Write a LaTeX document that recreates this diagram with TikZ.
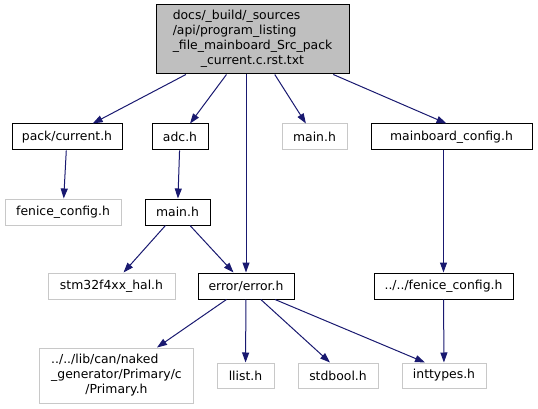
\documentclass[tikz,border=0pt]{standalone}
\usepackage{fontspec}
\setmainfont{DejaVu Sans}
\usetikzlibrary{arrows.meta}
\definecolor{DoxNavy}{HTML}{191970}
\definecolor{DoxGray}{HTML}{BFBFBF}
\definecolor{DoxFaint}{HTML}{C8C8C8}

\begin{document}
\begin{tikzpicture}[x=1pt,y=-1pt,
    every node/.style={font=\fontsize{12.4}{15}\selectfont,inner sep=0pt,
      minimum height=26pt},
    hdr/.style={draw=black,line width=1pt},
    ext/.style={draw=DoxFaint,line width=1pt},
    inc/.style={DoxNavy,line width=1pt,-{Triangle[length=10pt,width=7pt]}}]

        \useasboundingbox (0,0) rectangle (538,409);

        % the listing file
        \node[hdr,fill=DoxGray,minimum width=193pt,minimum height=69pt]
          (root) at (252.5,39.5) {\begin{tabular}{@{}l@{}}
            docs/\_build/\_sources\\
            /api/program\_listing\\
            \_file\_mainboard\_Src\_pack\\
            \multicolumn{1}{@{}c@{}}{\_current.c.rst.txt}
          \end{tabular}};

        % first level
        \node[hdr,minimum width=110pt] (pack) at (67,137) {pack/current.h};
        \node[hdr,minimum width=56pt] (adc) at (180,137) {adc.h};
        \node[ext,minimum width=65pt] (mainx) at (314.5,137) {main.h};
        \node[hdr,minimum width=161pt] (mbcfg) at (451.5,137) {mainboard\_config.h};

        % second level
        \node[ext,minimum width=116pt] (fenice) at (63,212) {fenice\_config.h};
        \node[hdr,minimum width=65pt] (mainh) at (177.5,212) {main.h};

        % third level
        \node[ext,minimum width=127pt] (hal) at (111.5,286) {stm32f4xx\_hal.h};
        \node[hdr,minimum width=96pt] (err) at (246,286) {error/error.h};
        \node[hdr,minimum width=139pt] (relfen) at (443.5,286) {../../fenice\_config.h};

        % leaves
        \node[ext,minimum width=154pt,minimum height=55pt]
          (primary) at (116.5,375.5) {\begin{tabular}{@{}l@{}}
            ../../lib/can/naked\\
            \_generator/Primary/c\\
            \multicolumn{1}{@{}c@{}}{/Primary.h}
          \end{tabular}};
        \node[ext,minimum width=57pt,minimum height=25pt] (llist) at (245.5,375.5) {llist.h};
        \node[ext,minimum width=80pt,minimum height=25pt] (stdb) at (338,375.5) {stdbool.h};
        \node[ext,minimum width=84pt,minimum height=25pt] (intt) at (444,375.5) {inttypes.h};

        \draw[inc] (root) -- (pack);
        \draw[inc] (root) -- (adc);
        \draw[inc] (root.south -| err) -- (err);
        \draw[inc] (root) -- (mainx);
        \draw[inc] (root) -- ([xshift=-5pt]mbcfg.north);

        \draw[inc] (pack) -- (fenice);
        \draw[inc] (adc) -- (mainh);
        \draw[inc] (mainh) -- (hal);
        \draw[inc] (mainh) -- (err);
        \draw[inc] (mbcfg.south -| relfen) -- (relfen);

        \draw[inc] (err) -- (primary);
        \draw[inc] (err) -- (llist);
        \draw[inc] (err) -- ([xshift=-8pt]stdb.north);
        \draw[inc] ([xshift=29pt]err.south) -- ([xshift=-19pt]intt.north);
        \draw[inc] (relfen) -- (intt);

      \end{tikzpicture}
\end{document}
